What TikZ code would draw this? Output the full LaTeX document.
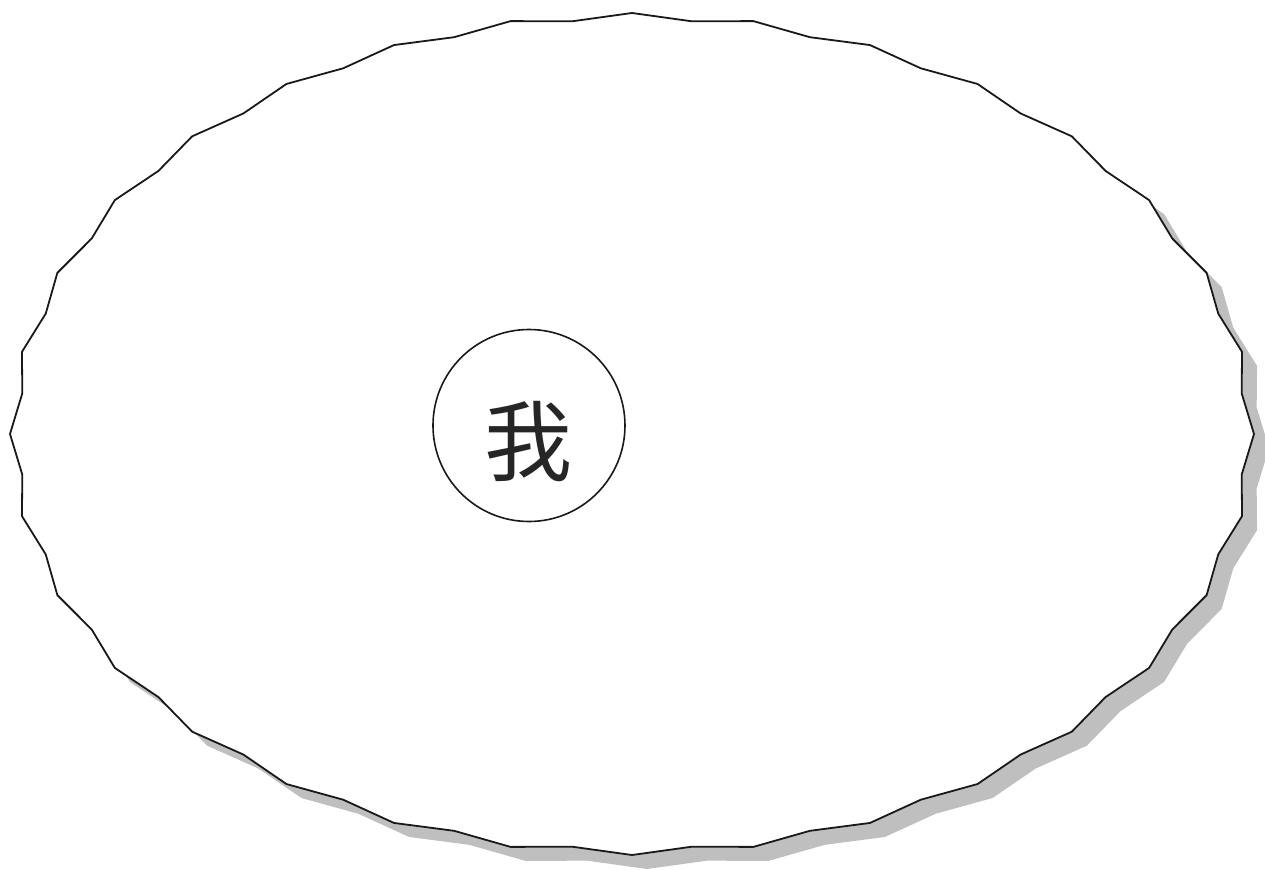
\documentclass[tikz,border=0pt]{standalone}
\usepackage{fontspec}
\newfontfamily\cjk{Noto Sans CJK SC}

% zigzag ellipse, 64 corners
\newcommand{\burstpath}{(622,0)
    \foreach \k [evaluate=\k as \rx using {622*(1-0.015*mod(\k,2))},
                 evaluate=\k as \ry using {421*(1-0.015*mod(\k,2))}] in {1,...,63}
    { -- ({\rx*cos(\k*5.625)}, {\ry*sin(\k*5.625)}) } -- cycle}

\begin{document}
\begin{tikzpicture}[x=0.5pt, y=0.5pt,
    burst/.style={draw=black!90, fill=white, line width=0.9pt, line join=miter},
    burstshadow/.style={fill=black!25, draw=none},
    selfnode/.style={circle, draw=black!90, line width=0.8pt, minimum size=96pt,
        inner sep=0pt, text height=49pt, text depth=0pt, text=black!85,
        font=\cjk\fontsize{44pt}{44pt}\selectfont}]
    \clip (-632,-435) rectangle (633,434);

    \fill[burstshadow, shift={(15,-14)}] \burstpath;
    \draw[burst] \burstpath;

    \node (self) [selfnode] at (-103,8.5) {我};
\end{tikzpicture}
\end{document}
